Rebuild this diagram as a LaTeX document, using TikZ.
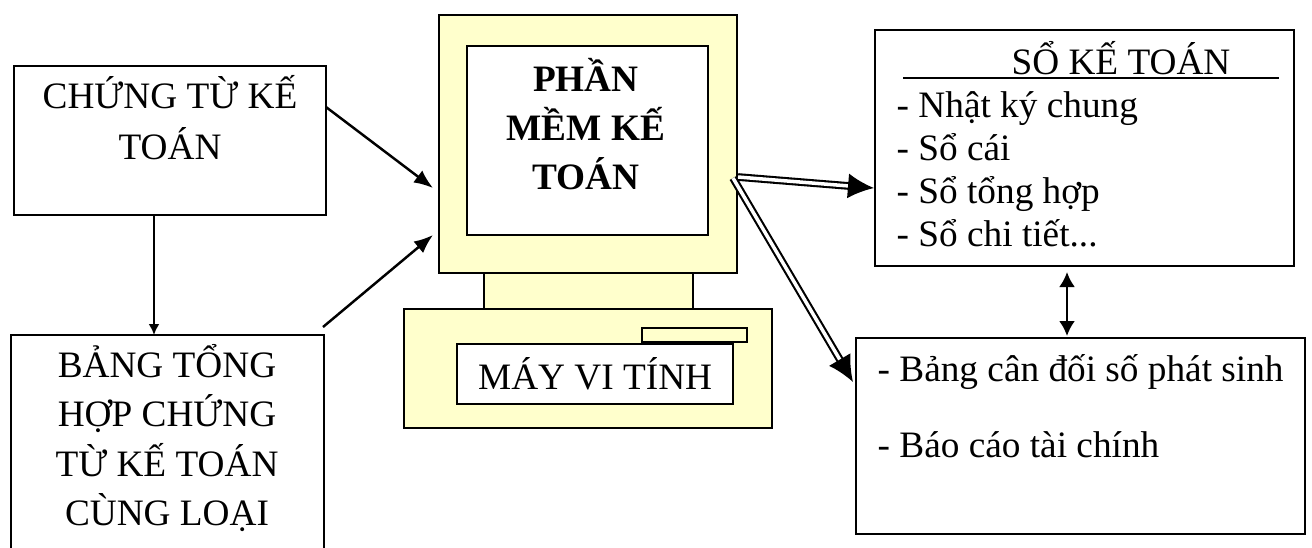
\documentclass[tikz,border=0pt]{standalone}
\usepackage{fontspec}
\setmainfont{Liberation Serif}
\usepackage{xcolor}
\usetikzlibrary{arrows.meta}
\definecolor{paleyellow}{HTML}{FFFFCC}
\tikzset{
box/.style={draw,line width=0.6pt,align=center,inner sep=0pt,anchor=north west},
shell/.style={box,fill=paleyellow},
txt/.style={font=\fontsize{10.6}{14}\selectfont},
item/.style={txt,anchor=base west,inner sep=0pt},
arrowthin/.style={line width=0.7pt,-{Latex[length=1.9mm,width=1.5mm]}},
arrowdown/.style={line width=0.7pt,-{Latex[length=1.1mm,width=1.1mm]}},
arrowboth/.style={line width=0.7pt,{Latex[length=1.5mm,width=1.6mm]}-{Latex[length=1.5mm,width=1.6mm]}},
arrowdouble/.style={double,double distance=1pt,line width=0.6pt,-{Latex[length=2.6mm,width=2.5mm]}}
}
\begin{document}
\begin{tikzpicture}[x=0.01cm,y=-0.01cm]
\useasboundingbox (0,0) rectangle (1312,547);
\clip (0,0) rectangle (1312,547);
% left column
\node[box,minimum width=3.12cm,minimum height=1.49cm] (chungtu) at (13,65) {};
\node[txt,align=center,font=\fontsize{10.6}{14.5}\selectfont] (chungtxt) at (170,118) {CHỨNG TỪ KẾ\\TOÁN};
\node[box,minimum width=3.13cm,minimum height=2.30cm] (bangth) at (10,334) {};
\node[txt,align=center] (bangtxt) at (167,438) {BẢNG TỔNG\\HỢP CHỨNG\\TỪ KẾ TOÁN\\CÙNG LOẠI};
% computer
\node[shell,minimum width=2.09cm,minimum height=0.36cm] (stand) at (483,272) {};
\node[shell,minimum width=2.98cm,minimum height=2.58cm] (monitor) at (438,14) {};
\node[box,fill=white,minimum width=2.41cm,minimum height=1.89cm] (screen) at (466,45) {};
\node[align=center,font=\fontsize{10.6}{14}\selectfont\bfseries] (screentxt) at (586,124) {PHẦN\\MỀM KẾ\\TOÁN};
\node[shell,minimum width=3.68cm,minimum height=1.19cm] (base) at (403,308) {};
\node[shell,minimum width=1.05cm,minimum height=0.14cm] (slot) at (641,327) {};
\node[box,fill=white,txt,minimum width=2.76cm,minimum height=0.60cm] (maytinh) at (456,343) {MÁY VI TÍNH};
% right column
\node[box,minimum width=4.19cm,minimum height=2.36cm] (soketoan) at (874,29) {};
\node[txt,anchor=base,inner sep=0pt] (sotitle) at (1121,74) {SỔ KẾ TOÁN};
\coordinate (ruleL) at (903,78);
\coordinate (ruleR) at (1279,78);
\draw[line width=0.6pt] (ruleL) -- (ruleR);
\node[item] (so1) at (896,117) {- Nhật ký chung};
\node[item] (so2) at (896,160) {- Sổ cái};
\node[item] (so3) at (896,203) {- Sổ tổng hợp};
\node[item] (so4) at (896,246) {- Sổ chi tiết...};
\node[box,minimum width=4.49cm,minimum height=1.96cm] (baocao) at (855,337) {};
\node[item] (bc1) at (877,381) {- Bảng cân đối số phát sinh};
\node[item] (bc2) at (877,457) {- Báo cáo tài chính};
% connectors
\coordinate (a1s) at (326,107);
\coordinate (a1e) at (433,188);
\coordinate (a2s) at (323,327);
\coordinate (a2e) at (433,235);
\coordinate (downs) at (154,214);
\coordinate (downe) at (154,335);
\coordinate (boths) at (1067,272);
\coordinate (bothe) at (1067,336);
\draw[arrowdown] (downs) -- (downe);
\draw[arrowthin] (a1s) -- (a1e);
\draw[arrowthin] (a2s) -- (a2e);
\coordinate (d1s) at (738,177);
\coordinate (d1e) at (874,188);
\coordinate (d2s) at (733,178);
\coordinate (d2e) at (853,382);
\draw[arrowdouble] (d1s) -- (d1e);
\draw[arrowdouble] (d2s) -- (d2e);
\draw[arrowboth] (boths) -- (bothe);
\end{tikzpicture}
\end{document}
